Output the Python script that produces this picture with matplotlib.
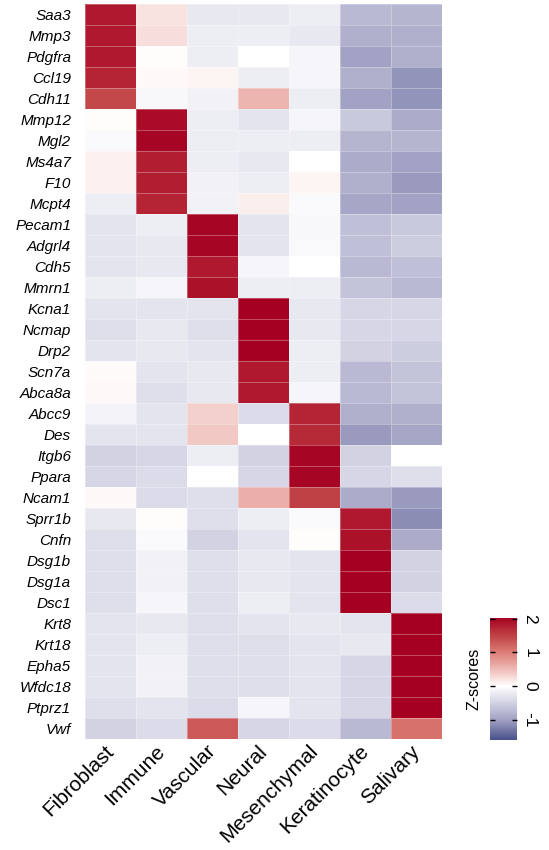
import numpy as np
import matplotlib
matplotlib.use('Agg')
import matplotlib.pyplot as plt
from matplotlib.colors import LinearSegmentedColormap, Normalize
from matplotlib.cm import ScalarMappable
from matplotlib.transforms import ScaledTranslation

plt.rcParams['font.family'] = ['Liberation Sans', 'DejaVu Sans']

genes = ['Saa3', 'Mmp3', 'Pdgfra', 'Ccl19', 'Cdh11',
         'Mmp12', 'Mgl2', 'Ms4a7', 'F10', 'Mcpt4',
         'Pecam1', 'Adgrl4', 'Cdh5', 'Mmrn1',
         'Kcna1', 'Ncmap', 'Drp2', 'Scn7a', 'Abca8a',
         'Abcc9', 'Des', 'Itgb6', 'Ppara', 'Ncam1',
         'Sprr1b', 'Cnfn', 'Dsg1b', 'Dsg1a', 'Dsc1',
         'Krt8', 'Krt18', 'Epha5', 'Wfdc18', 'Ptprz1', 'Vwf']

cell_types = ['Fibroblast', 'Immune', 'Vascular', 'Neural',
              'Mesenchymal', 'Keratinocyte', 'Salivary']

# mean z-score per gene (rows) and cell type (columns)
zscores = np.array([
    [1.85, 0.20, -0.25, -0.25, -0.20, -0.75, -0.80],
    [1.85, 0.25, -0.20, -0.20, -0.25, -0.85, -0.85],
    [1.85, 0.02, -0.20, 0.00, -0.10, -1.00, -0.85],
    [1.75, 0.05, 0.07, -0.20, -0.10, -0.85, -1.10],
    [1.45, -0.08, -0.15, 0.55, -0.20, -1.00, -1.10],
    [0.02, 1.95, -0.20, -0.30, -0.10, -0.60, -0.90],
    [-0.05, 2.00, -0.20, -0.20, -0.20, -0.80, -0.80],
    [0.10, 1.80, -0.20, -0.25, 0.00, -0.90, -1.00],
    [0.10, 1.80, -0.15, -0.20, 0.08, -0.85, -1.05],
    [-0.20, 1.75, -0.15, 0.12, -0.05, -0.95, -1.00],
    [-0.30, -0.20, 2.00, -0.30, -0.08, -0.70, -0.60],
    [-0.30, -0.25, 2.00, -0.30, -0.07, -0.70, -0.55],
    [-0.30, -0.25, 1.85, -0.10, 0.00, -0.75, -0.70],
    [-0.20, -0.10, 1.90, -0.20, -0.20, -0.65, -0.75],
    [-0.30, -0.30, -0.30, 2.05, -0.25, -0.45, -0.45],
    [-0.35, -0.25, -0.35, 2.05, -0.25, -0.45, -0.45],
    [-0.30, -0.25, -0.30, 2.05, -0.20, -0.50, -0.55],
    [0.03, -0.30, -0.25, 1.85, -0.20, -0.75, -0.65],
    [0.05, -0.35, -0.25, 1.85, -0.10, -0.75, -0.65],
    [-0.12, -0.30, 0.35, -0.40, 1.75, -0.85, -0.85],
    [-0.30, -0.30, 0.40, 0.00, 1.70, -1.05, -0.95],
    [-0.50, -0.45, -0.20, -0.50, 2.00, -0.50, 0.00],
    [-0.45, -0.40, 0.00, -0.45, 2.00, -0.45, -0.35],
    [0.05, -0.40, -0.35, 0.60, 1.50, -0.90, -1.05],
    [-0.25, 0.02, -0.35, -0.20, -0.05, 1.85, -1.15],
    [-0.35, -0.05, -0.50, -0.30, 0.02, 1.90, -0.90],
    [-0.35, -0.15, -0.35, -0.25, -0.30, 2.05, -0.50],
    [-0.35, -0.15, -0.35, -0.25, -0.30, 2.05, -0.50],
    [-0.35, -0.10, -0.35, -0.20, -0.30, 2.05, -0.40],
    [-0.30, -0.25, -0.35, -0.30, -0.25, -0.30, 2.05],
    [-0.30, -0.20, -0.35, -0.35, -0.30, -0.25, 2.05],
    [-0.30, -0.15, -0.35, -0.35, -0.30, -0.45, 2.05],
    [-0.30, -0.15, -0.35, -0.35, -0.30, -0.45, 2.05],
    [-0.35, -0.30, -0.40, -0.10, -0.30, -0.45, 2.05],
    [-0.50, -0.40, 1.30, -0.45, -0.40, -0.75, 1.10],
])

zmin, zmax = -1.6, 2.05
stops = [-1.6, -1.0, -0.5, 0.0, 0.5, 1.0, 1.5, 2.05]
stop_colors = ['#48508a', '#a2a2c4', '#d2d2e3', '#ffffff',
               '#efbbb6', '#dc7d76', '#c04245', '#a50021']
cmap = LinearSegmentedColormap.from_list(
    'zs', [((s - zmin) / (zmax - zmin), c) for s, c in zip(stops, stop_colors)])
norm = Normalize(vmin=zmin, vmax=zmax)

fig = plt.figure(figsize=(5.49, 8.5), dpi=100)
ax = fig.add_axes([85 / 549, 1 - 739 / 850, 357 / 549, 735 / 850])
ax.pcolormesh(zscores, cmap=cmap, norm=norm,
              edgecolors=(1, 1, 1, 0.3), linewidth=0.4)
ax.set_xlim(0, len(cell_types))
ax.set_ylim(len(genes), 0)
ax.set_yticks(np.arange(len(genes)) + 0.5, genes, fontstyle='italic', fontsize=11)
ax.set_xticks(np.arange(len(cell_types)) + 0.5, cell_types, rotation=45,
              ha='right', rotation_mode='anchor', fontsize=15)
ax.tick_params(axis='y', length=0, pad=10)
ax.tick_params(axis='x', length=0, pad=4)
shift = ScaledTranslation(-6 / 100, 3 / 100, fig.dpi_scale_trans)
for lab in ax.get_xticklabels():
    lab.set_transform(lab.get_transform() + shift)
for s in ax.spines.values():
    s.set_visible(False)

# colour key
cax = fig.add_axes([490 / 549, 1 - 740 / 850, 27 / 549, 122 / 850])
cb = fig.colorbar(ScalarMappable(norm=norm, cmap=cmap), cax=cax, ticks=[-1, 0, 1, 2])
cb.outline.set_visible(False)
cb.set_ticklabels(['-1', '0', '1', '2'])
cax.set_ylim(-1.6, 2.02)
cax.tick_params(left=True, right=True, labelleft=False, labelright=True,
                direction='in', length=3.5, width=1, color='black', labelsize=12.5, pad=4)
for lab in cax.get_yticklabels():
    lab.set_rotation(-90)
    lab.set_va('center')
cax.yaxis.set_label_position('left')
cb.set_label('Z-scores', fontsize=11.5, labelpad=6)

fig.savefig('out.png', dpi=100)
